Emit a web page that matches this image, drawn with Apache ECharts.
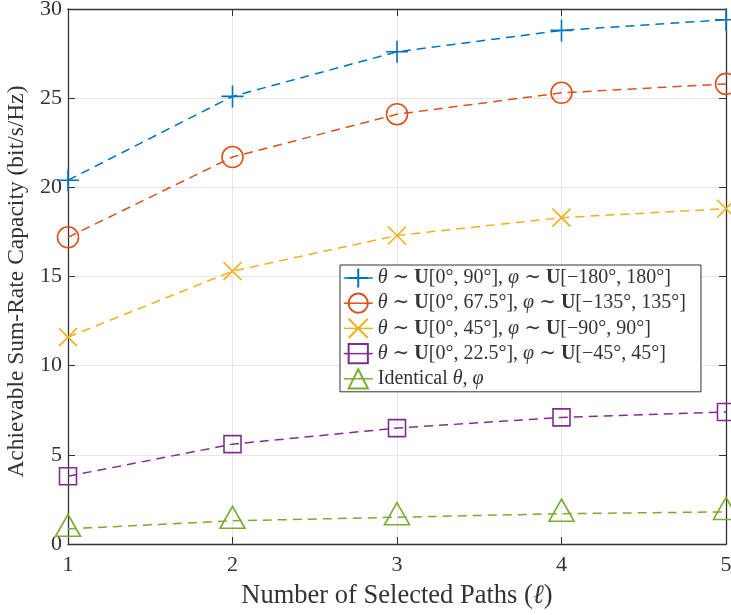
<!DOCTYPE html>
<html>
<head>
<meta charset="utf-8">
<script src="https://cdn.jsdelivr.net/npm/echarts@6/dist/echarts.min.js"></script>
<style>
  html, body { margin: 0; padding: 0; background: #fff; }
  #chart { width: 731px; height: 615px; }
</style>
</head>
<body>
<div id="chart"></div>
<script>
// Number of selected paths (x axis)
const paths = [1, 2, 3, 4, 5];

// Achievable sum-rate capacity (bit/s/Hz) per angular-spread setting
const spread90 = [20.4, 25.1, 27.6, 28.8, 29.4];
const spread675 = [17.2, 21.7, 24.1, 25.3, 25.8];
const spread45 = [11.6, 15.3, 17.3, 18.3, 18.8];
const spread225 = [3.8, 5.6, 6.5, 7.1, 7.4];
const identical = [0.85, 1.3, 1.5, 1.7, 1.8];

const seriesNames = [
  'θ ∼ U[0°, 90°], φ ∼ U[−180°, 180°]',
  'θ ∼ U[0°, 67.5°], φ ∼ U[−135°, 135°]',
  'θ ∼ U[0°, 45°], φ ∼ U[−90°, 90°]',
  'θ ∼ U[0°, 22.5°], φ ∼ U[−45°, 45°]',
  'Identical θ, φ'
];
const legendRich = [
  '{i|θ} ∼ {b|U}[0°, 90°], {i|φ} ∼ {b|U}[−180°, 180°]',
  '{i|θ} ∼ {b|U}[0°, 67.5°], {i|φ} ∼ {b|U}[−135°, 135°]',
  '{i|θ} ∼ {b|U}[0°, 45°], {i|φ} ∼ {b|U}[−90°, 90°]',
  '{i|θ} ∼ {b|U}[0°, 22.5°], {i|φ} ∼ {b|U}[−45°, 45°]',
  'Identical {i|θ}, {i|φ}'
];

const yTicks = [0, 5, 10, 15, 20, 25, 30];

const colors = ['#0072BD', '#D95319', '#EDB120', '#7E2F8E', '#77AC30'];
const seriesData = [spread90, spread675, spread45, spread225, identical];

const plusPath = 'path://M10,0 L10,20 M0,10 L20,10';
const crossPath = 'path://M0,0 L20,20 M20,0 L0,20';
const symbols = [plusPath, 'circle', crossPath, 'rect', 'triangle'];
const symbolSizes = [22, 21, 18, 17, [25, 22]];
// triangles sit on their centroid rather than the box centre
const symbolOffsets = [[0, 0], [0, 0], [0, 0], [0, 0], [0, -3.5]];

const FONT = '"Liberation Serif", "DejaVu Serif", serif';
const AXIS_COLOR = '#333333';
const GRID_COLOR = '#e6e6e6';

const chart = echarts.init(document.getElementById('chart'), null, { renderer: 'canvas' });

const series = seriesData.map((vals, k) => ({
  name: seriesNames[k],
  type: 'line',
  data: paths.map((x, j) => [x, vals[j]]),
  symbol: symbols[k],
  symbolSize: symbolSizes[k],
  symbolOffset: symbolOffsets[k],
  showAllSymbol: true,
  lineStyle: { color: colors[k], width: 1.5, type: [9, 6] },
  itemStyle: { color: 'rgba(0,0,0,0)', borderColor: colors[k], borderWidth: 1.6 },
  emphasis: { disabled: true },
  z: 3 + k,
  animation: false
}));

const tickStyle = { show: true, inside: true, length: 7, lineStyle: { color: AXIS_COLOR, width: 1 } };
const lineStyleAxis = { color: AXIS_COLOR, width: 1.3 };

const option = {
  animation: false,
  backgroundColor: '#ffffff',
  grid: { left: 68, right: 5, top: 9, bottom: 71, containLabel: false, outerBoundsMode: 'none' },
  xAxis: [{
    type: 'value',
    min: 1, max: 5, interval: 1,
    position: 'bottom',
    name: 'Number of Selected Paths ({l|ℓ})',
    nameLocation: 'middle',
    nameGap: 39,
    nameTextStyle: {
      fontFamily: FONT, fontSize: 26.5, color: AXIS_COLOR,
      rich: { l: { fontFamily: FONT, fontSize: 26.5, fontStyle: 'italic', color: AXIS_COLOR } }
    },
    axisLine: { show: true, lineStyle: lineStyleAxis },
    axisTick: tickStyle,
    axisLabel: { fontFamily: FONT, fontSize: 22, color: AXIS_COLOR, margin: 10 },
    splitLine: { show: true, lineStyle: { color: GRID_COLOR, width: 1 } }
  }, {
    type: 'value',
    min: 1, max: 5, interval: 1,
    position: 'top',
    axisLine: { show: true, onZero: false, lineStyle: lineStyleAxis },
    axisTick: tickStyle,
    axisLabel: { show: false },
    splitLine: { show: false }
  }],
  yAxis: [{
    type: 'value',
    min: yTicks[0], max: yTicks[yTicks.length - 1], interval: 5,
    position: 'left',
    name: 'Achievable Sum-Rate Capacity (bit/s/Hz)',
    nameLocation: 'middle',
    nameGap: 31,
    nameTextStyle: { fontFamily: FONT, fontSize: 23.5, color: AXIS_COLOR, padding: [0, 10, 0, 0] },
    axisLine: { show: true, lineStyle: lineStyleAxis },
    axisTick: tickStyle,
    axisLabel: { fontFamily: FONT, fontSize: 22, color: AXIS_COLOR, margin: 6 },
    splitLine: { show: true, lineStyle: { color: GRID_COLOR, width: 1 } }
  }, {
    type: 'value',
    min: yTicks[0], max: yTicks[yTicks.length - 1], interval: 5,
    position: 'right',
    axisLine: { show: true, onZero: false, lineStyle: lineStyleAxis },
    axisTick: tickStyle,
    axisLabel: { show: false },
    splitLine: { show: false }
  }],
  legend: {
    orient: 'vertical',
    left: 340, top: 265,
    padding: [2, 15, 2, 3],
    itemGap: 3.2,
    itemWidth: 29,
    itemHeight: 24,
    backgroundColor: '#ffffff',
    borderColor: AXIS_COLOR,
    borderWidth: 1,
    borderRadius: 0,
    selectedMode: false,
    lineStyle: { type: 'solid', width: 1.5 },
    formatter: (name) => legendRich[seriesNames.indexOf(name)],
    textStyle: {
      fontFamily: FONT, fontSize: 20, lineHeight: 22, color: AXIS_COLOR,
      rich: {
        i: { fontFamily: FONT, fontSize: 20, lineHeight: 22, fontStyle: 'italic', color: AXIS_COLOR },
        b: { fontFamily: FONT, fontSize: 20, lineHeight: 22, fontWeight: 'bold', color: AXIS_COLOR }
      }
    },
    data: seriesNames
  },
  series: series
};

chart.setOption(option);
</script>
</body>
</html>
